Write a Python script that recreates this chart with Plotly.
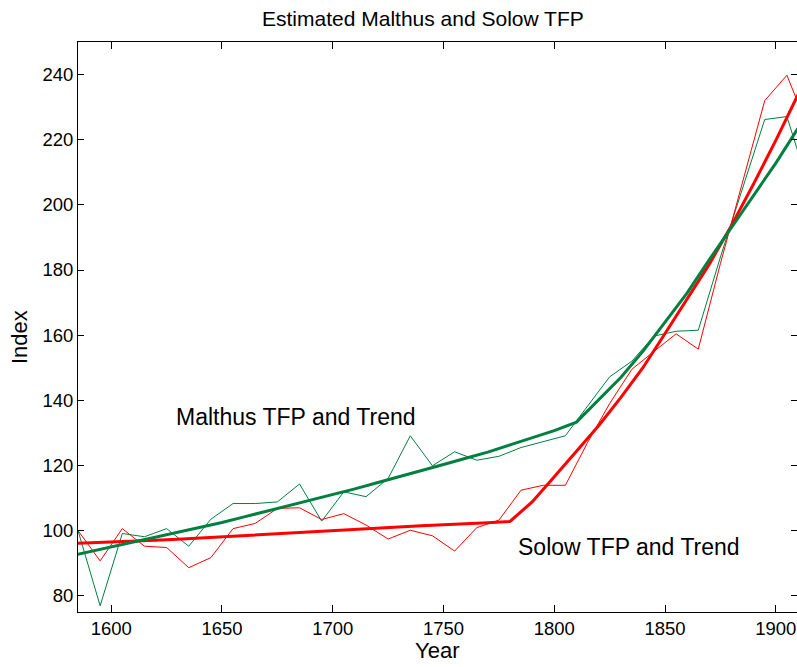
import plotly.graph_objects as go

# Decade observations (mid-decade years)
data_years = [1585, 1595, 1605, 1615, 1625, 1635, 1645, 1655, 1665, 1675,
              1685, 1695, 1705, 1715, 1725, 1735, 1745, 1755, 1765, 1775,
              1785, 1795, 1805, 1815, 1825, 1835, 1845, 1855, 1865, 1875,
              1885, 1895, 1905, 1915]

malthus_tfp = [100.0, 76.9, 99.1, 98.1, 100.6, 95.2, 103.5, 108.3, 108.3, 108.8,
               114.3, 102.9, 111.9, 110.4, 116.0, 129.1, 119.9, 124.2, 121.6, 122.8,
               125.5, 127.2, 129.1, 138.2, 147.2, 152.0, 159.7, 161.2, 161.5, 184.0,
               205.0, 226.2, 227.1, 205.5]

solow_tfp = [100.0, 90.7, 100.6, 95.2, 94.8, 88.6, 91.7, 100.6, 102.2, 106.8,
             107.0, 103.4, 105.2, 101.7, 97.4, 100.1, 98.4, 93.7, 100.9, 103.2,
             112.4, 113.9, 113.9, 127.0, 139.0, 149.5, 155.0, 160.4, 155.7, 182.0,
             207.0, 232.0, 239.8, 222.8]

# Fitted trends, evaluated at decade boundaries
trend_years = [1580, 1590, 1600, 1610, 1620, 1630, 1640, 1650, 1660, 1670,
               1680, 1690, 1700, 1710, 1720, 1730, 1740, 1750, 1760, 1770,
               1780, 1790, 1800, 1810, 1820, 1830, 1840, 1850, 1860, 1870,
               1880, 1890, 1900, 1910]

malthus_trend = [92.0, 93.5, 95.0, 96.5, 98.0, 99.4, 100.9, 102.5, 104.2, 105.9,
                 107.6, 109.3, 111.0, 112.8, 114.7, 116.5, 118.4, 120.3, 122.2, 124.1,
                 126.3, 128.5, 130.7, 133.3, 140.0, 147.0, 155.0, 164.0, 173.0, 183.2,
                 193.2, 202.8, 212.8, 223.5]

solow_trend = [96.0, 96.2, 96.5, 96.8, 97.0, 97.3, 97.7, 98.1, 98.5, 98.9,
               99.2, 99.5, 99.9, 100.4, 100.8, 101.2, 101.5, 101.8, 102.0, 102.4,
               102.8, 108.8, 116.5, 124.3, 132.2, 140.8, 150.0, 160.5, 171.2, 181.8,
               193.7, 206.5, 219.8, 233.8]

x_ticks = [1600, 1650, 1700, 1750, 1800, 1850, 1900]
y_ticks = [80, 100, 120, 140, 160, 180, 200, 220, 240]

GREEN = "rgb(0,128,64)"
RED = "rgb(255,0,0)"
FONT = "Liberation Sans, Arial, Helvetica, sans-serif"

fig = go.Figure()
fig.add_trace(go.Scatter(x=data_years, y=malthus_tfp, mode="lines",
                         line=dict(color=GREEN, width=1), hoverinfo="skip"))
fig.add_trace(go.Scatter(x=data_years, y=solow_tfp, mode="lines",
                         line=dict(color=RED, width=1), hoverinfo="skip"))
fig.add_trace(go.Scatter(x=trend_years, y=solow_trend, mode="lines",
                         line=dict(color=RED, width=3), hoverinfo="skip"))
fig.add_trace(go.Scatter(x=trend_years, y=malthus_trend, mode="lines",
                         line=dict(color=GREEN, width=3), hoverinfo="skip"))
# invisible trace so the right-hand tick axis is drawn
fig.add_trace(go.Scatter(x=[1700], y=[150], yaxis="y2", mode="markers",
                         marker=dict(opacity=0), hoverinfo="skip"))

W, H = 797, 667
L, R, T, B = 78, 0, 42, 55
plot_w = W - L - R
x_min = 1585
x_max = x_min + plot_w / 2.2153

axis_common = dict(showgrid=False, zeroline=False, ticks="inside",
                   tickcolor="black", tickwidth=1,
                   tickfont=dict(family=FONT, size=18.5, color="black"))

fig.update_layout(
    width=W, height=H,
    margin=dict(l=L, r=R, t=T, b=B, pad=0),
    paper_bgcolor="white", plot_bgcolor="white",
    showlegend=False,
    font=dict(family=FONT, color="black"),
    xaxis=dict(range=[x_min, x_max], tickvals=x_ticks, ticklen=7,
               showline=True, linecolor="black", linewidth=1, mirror="ticks",
               **axis_common),
    yaxis=dict(range=[75, 250], tickvals=y_ticks, ticklen=6,
               showline=True, linecolor="black", linewidth=1, mirror=False,
               **axis_common),
    yaxis2=dict(range=[75, 250], tickvals=y_ticks, ticklen=6, overlaying="y",
                side="right", showline=False, showticklabels=False,
                showgrid=False, zeroline=False, ticks="inside",
                tickcolor="black", tickwidth=1),
)

def px_to_paper_x(px):
    return (px - L) / plot_w

def py_to_paper_y(py):
    return (H - B - py) / (H - T - B)

fig.add_annotation(text="Estimated Malthus and Solow TFP", xref="paper", yref="paper",
                   x=px_to_paper_x(423), y=py_to_paper_y(18), showarrow=False,
                   xanchor="center", yanchor="middle",
                   font=dict(family=FONT, size=21, color="black"))
fig.add_annotation(text="Year", xref="paper", yref="paper",
                   x=px_to_paper_x(436.5), y=py_to_paper_y(650), showarrow=False,
                   xanchor="center", yanchor="middle",
                   font=dict(family=FONT, size=22, color="black"))
fig.add_annotation(text="Index", xref="paper", yref="paper", textangle=-90,
                   x=px_to_paper_x(19), y=py_to_paper_y(337), showarrow=False,
                   xanchor="center", yanchor="middle",
                   font=dict(family=FONT, size=22, color="black"))

fig.add_annotation(text="Malthus TFP and Trend", x=1628.3, y=135, xref="x", yref="y",
                   showarrow=False, xanchor="left", yanchor="middle",
                   font=dict(family=FONT, size=23, color="black"))
fig.add_annotation(text="Solow TFP and Trend", x=1782.6, y=95, xref="x", yref="y",
                   showarrow=False, xanchor="left", yanchor="middle",
                   font=dict(family=FONT, size=23, color="black"))

fig.write_html("out.html")
